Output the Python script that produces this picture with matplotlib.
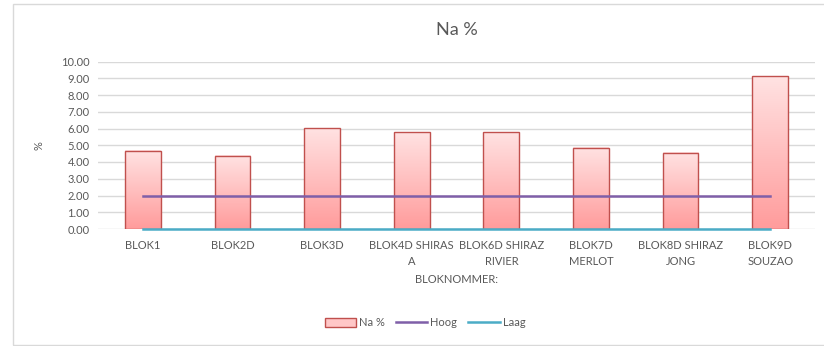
import matplotlib.pyplot as plt
import numpy as np
from matplotlib.patches import Rectangle
from matplotlib.colors import LinearSegmentedColormap

categories = ['BLOK1', 'BLOK2D', 'BLOK3D', 'BLOK4D SHIRAS\nA', 'BLOK6D SHIRAZ\nRIVIER',
              'BLOK7D\nMERLOT', 'BLOK8D SHIRAZ\nJONG', 'BLOK9D\nSOUZAO']
na_pct = [4.66, 4.38, 6.02, 5.78, 5.78, 4.85, 4.56, 9.12]
hoog = [2.0] * 8
laag = [0.0] * 8

plt.rcParams['font.family'] = ['Lato', 'DejaVu Sans']
grey = '#595959'

fig = plt.figure(figsize=(8.24, 3.46), dpi=100)
ax = fig.add_axes([98 / 824, 1 - 229 / 346, (815 - 98) / 824, (229 - 61.5) / 346])

# chart border
fig.patches.append(Rectangle((13 / 824, 1 / 346), 1.0, 1 - 5 / 346, transform=fig.transFigure,
                             fill=False, edgecolor='#d9d9d9', linewidth=1.0))

x = np.arange(len(categories))
width = 0.4
bars = ax.bar(x, na_pct, width=width, color='none', edgecolor='#c0504d', linewidth=1.0,
              zorder=3, label='Na %')

grad = np.linspace(0, 1, 100).reshape(-1, 1)
cmap = LinearSegmentedColormap.from_list('pink', ['#ff9c9c', '#ffe2e2'])
for b in bars:
    x0 = b.get_x()
    ax.imshow(grad, cmap=cmap, origin='lower', aspect='auto',
              extent=(x0, x0 + b.get_width(), 0, b.get_height()), zorder=2)

ax.plot(x, hoog, color='#7f5fa8', linewidth=1.8, zorder=4, label='Hoog')
ax.plot(x, laag, color='#4bacc6', linewidth=1.8, zorder=4, label='Laag', clip_on=False)

ax.set_xlim(-0.5, len(categories) - 0.5)
ax.set_ylim(0, 10)
ax.set_yticks(np.arange(0, 10.5, 1))
ax.set_yticklabels(['%.2f' % v for v in np.arange(0, 10.5, 1)])
ax.set_xticks(x)
ax.set_xticklabels(categories, linespacing=1.5)
ax.tick_params(axis='both', length=0, labelsize=8, colors=grey)
ax.tick_params(axis='x', pad=8)
ax.tick_params(axis='y', pad=6)
ax.grid(axis='y', color='#d9d9d9', linewidth=1.0, zorder=0)
ax.set_axisbelow(True)
for s in ax.spines.values():
    s.set_visible(False)

ax.set_title('Na %', fontsize=13, color=grey, pad=19)
ax.set_ylabel('%', fontsize=8, color=grey, labelpad=12)
ax.set_xlabel('BLOKNOMMER:', fontsize=8, color=grey, labelpad=5)

handles, labels = ax.get_legend_handles_labels()
order = [labels.index('Na %'), labels.index('Hoog'), labels.index('Laag')]
leg = fig.legend([handles[i] for i in order], [labels[i] for i in order],
                 loc='center', bbox_to_anchor=(425 / 824, 1 - 323 / 346), ncol=3, frameon=False,
                 fontsize=8, labelcolor=grey, handlelength=2.8, handleheight=0.8,
                 columnspacing=1.0, handletextpad=0.3)
for p in leg.get_patches():
    p.set_facecolor('#ffc7c7')

fig.savefig('out.png', dpi=100)
